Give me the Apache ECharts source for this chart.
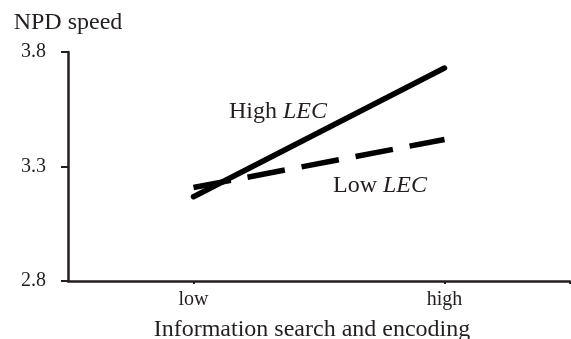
<!DOCTYPE html>
<html>
<head>
<meta charset="utf-8">
<script src="https://cdn.jsdelivr.net/npm/echarts@6/dist/echarts.min.js"></script>
<style>
  html, body { margin: 0; padding: 0; background: #fff; }
  #chart { width: 571px; height: 339px; }
</style>
</head>
<body>
<div id="chart"></div>
<script>
// Interaction plot: NPD speed by information search and encoding, split by LEC
const categories = ['low', 'high'];
const highLEC = [3.168, 3.73];
const lowLEC = [3.208, 3.418];
const yTicks = [2.8, 3.3, 3.8];

const FONT = '"Liberation Serif", "Times New Roman", serif';
const INK = '#231f20';

const toPairs = vals => vals.map((v, i) => [i, v]);

const chart = echarts.init(document.getElementById('chart'), null, { renderer: 'canvas' });
chart.setOption({
  animation: false,
  backgroundColor: '#fff',
  grid: { left: 68, right: 1, top: 52, bottom: 58, containLabel: false, outerBoundsMode: 'none' },
  xAxis: {
    type: 'value',
    min: -0.5,
    max: categories.length - 0.5,
    name: 'Information search and encoding',
    nameLocation: 'middle',
    nameGap: 37,
    nameTextStyle: { fontFamily: FONT, fontSize: 24, color: INK, padding: [0, 14, 0, 0] },
    axisLine: { show: true, onZero: false, lineStyle: { color: INK, width: 2.5 } },
    axisTick: {
      show: true, inside: false, length: 3,
      customValues: categories.map((c, i) => i).concat([categories.length - 0.5]),
      lineStyle: { color: INK, width: 2 }
    },
    axisLabel: {
      customValues: categories.map((c, i) => i),
      formatter: v => categories[Math.round(v)],
      fontFamily: FONT, fontSize: 20, color: INK, margin: 9
    },
    splitLine: { show: false }
  },
  yAxis: {
    type: 'value',
    min: yTicks[0],
    max: yTicks[yTicks.length - 1],
    interval: 0.5,
    name: 'NPD speed',
    nameLocation: 'end',
    nameGap: 17,
    nameTextStyle: { fontFamily: FONT, fontSize: 24, color: INK, align: 'center' },
    axisLine: { show: true, onZero: false, lineStyle: { color: INK, width: 2.5 } },
    axisTick: { show: true, inside: false, length: 7, lineStyle: { color: INK, width: 2 } },
    axisLabel: {
      formatter: v => v.toFixed(1),
      fontFamily: FONT, fontSize: 20, color: INK, margin: 22
    },
    splitLine: { show: false }
  },
  series: [
    {
      name: 'High LEC',
      type: 'line',
      data: toPairs(highLEC),
      symbol: 'none',
      lineStyle: { color: '#000', width: 5.5, type: 'solid', cap: 'round' }
    },
    {
      name: 'Low LEC',
      type: 'line',
      data: toPairs(lowLEC),
      symbol: 'none',
      lineStyle: { color: '#000', width: 5.5, type: [38, 17], cap: 'butt' }
    }
  ],
  graphic: [
    {
      type: 'text', left: 229, top: 100,
      style: {
        text: 'High {i|LEC}', fontFamily: FONT, fontSize: 24, fill: INK,
        rich: { i: { fontFamily: FONT, fontSize: 24, fontStyle: 'italic', fill: INK } }
      }
    },
    {
      type: 'text', left: 333, top: 174,
      style: {
        text: 'Low {i|LEC}', fontFamily: FONT, fontSize: 24, fill: INK,
        rich: { i: { fontFamily: FONT, fontSize: 24, fontStyle: 'italic', fill: INK } }
      }
    }
  ]
});
</script>
</body>
</html>
